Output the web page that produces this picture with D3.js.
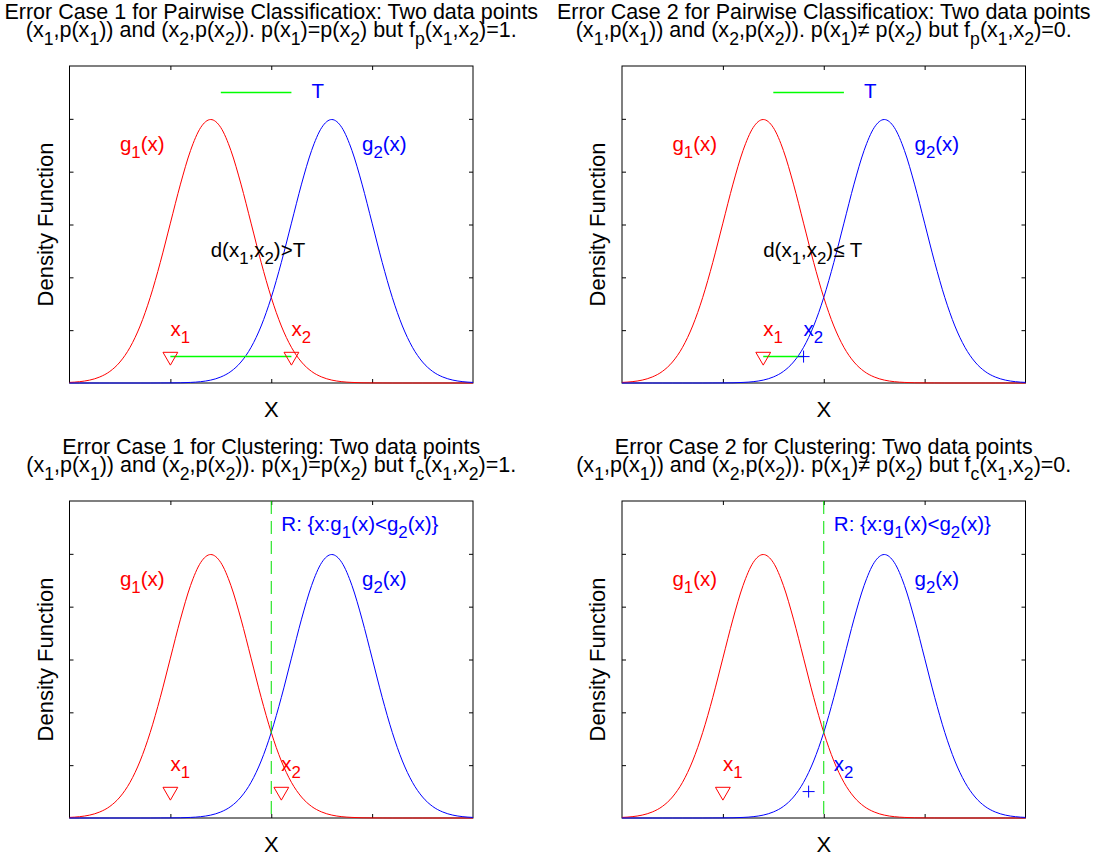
<!DOCTYPE html>
<html>
<head>
<meta charset="utf-8">
<script src="https://cdn.jsdelivr.net/npm/d3@7"></script>
<style>
  body { margin: 0; background: #fff; }
  text { font-family: "Liberation Sans", Arial, sans-serif; }
</style>
</head>
<body>
<div id="chart"></div>
<script>
// x grid shared by both densities
var xGrid = [-4.0,-3.8,-3.6,-3.4,-3.2,-3.0,-2.8,-2.6,-2.4,-2.2,-2.0,-1.8,-1.6,-1.4,-1.2,-1.0,-0.8,-0.6,-0.4,-0.2,
	0.0,0.2,0.4,0.6,0.8,1.0,1.2,1.4,1.6,1.8,2.0,2.2,2.4,2.6,2.8,3.0,3.2,3.4,3.6,3.8,4.0];
var g1 = [0.0011,0.0025,0.0055,0.0114,0.0219,0.0397,0.0675,0.1079,0.1619,0.2283,0.3025,0.3764,0.4401,0.4834,0.4987,
	0.4834,0.4401,0.3764,0.3025,0.2283,0.1619,0.1079,0.0675,0.0397,0.0219,0.0114,0.0055,0.0025,0.0011,0.0004,
	0.0002,0.0001,0,0,0,0,0,0,0,0,0];
var g2 = [0,0,0,0,0,0,0,0,0,0.0001,0.0002,0.0004,0.0011,0.0025,0.0055,0.0114,0.0219,0.0397,0.0675,0.1079,
	0.1619,0.2283,0.3025,0.3764,0.4401,0.4834,0.4987,0.4834,0.4401,0.3764,0.3025,0.2283,0.1619,0.1079,0.0675,
	0.0397,0.0219,0.0114,0.0055,0.0025,0.0011];

var xTicks = [-2, 0, 2];
var yTicks = [0.1, 0.2, 0.3, 0.4, 0.5];

var titles = [
	["Error Case 1 for Pairwise Classificatiox: Two data points", "(x_1,p(x_1)) and (x_2,p(x_2)). p(x_1)=p(x_2) but f_p(x_1,x_2)=1."],
	["Error Case 2 for Pairwise Classificatiox: Two data points", "(x_1,p(x_1)) and (x_2,p(x_2)). p(x_1)\u2260 p(x_2) but f_p(x_1,x_2)=0."],
	["Error Case 1 for Clustering: Two data points", "(x_1,p(x_1)) and (x_2,p(x_2)). p(x_1)=p(x_2) but f_c(x_1,x_2)=1."],
	["Error Case 2 for Clustering: Two data points", "(x_1,p(x_1)) and (x_2,p(x_2)). p(x_1)\u2260 p(x_2) but f_c(x_1,x_2)=0."]
];

// data points x1, x2 per panel
var x1Points = [[-2, 0.05], [-1.2, 0.05], [-2, 0.05], [-2, 0.05]];
var x2Points = [[0.4, 0.05], [-0.4, 0.05], [0.2, 0.05], [-0.3, 0.05]];
var x2Marker = ["tri", "plus", "tri", "plus"];
var x2Color = ["red", "blue", "red", "blue"];
var x1Labels = [[-2, 0.1], [-1.2, 0.1], [-2, 0.1], [-2, 0.1]];
var x2Labels = [[0.4, 0.1], [-0.4, 0.1], [0.2, 0.1], [0.2, 0.1]];

// pairwise panels: threshold T and distance
var tLine = [[-1.0, 0.55], [0.4, 0.55]];
var tLabel = [0.8, 0.55];
var distText = ["d(x_1,x_2)>T", "d(x_1,x_2)\u2264 T"];
var distPos = [-1.2, 0.25];

// clustering panels: region boundary
var boundaryX = 0;
var regionLabel = "R: {x:g_1(x)<g_2(x)}";
var regionPos = [0.2, 0.555];

var g1Label = [-3, 0.45], g2Label = [1.8, 0.45];

var W = 1101, H = 856;
var panels = [
	{left: 69.5, top: 66},
	{left: 622, top: 66},
	{left: 69.5, top: 501},
	{left: 622, top: 501}
];
var pw = 403.5, ph = 317;
var fs = 20.5, titleFs = 21.5, labelFs = 22;

var svg = d3.select("#chart").append("svg")
	.attr("width", W).attr("height", H)
	.style("background", "#fff");

function texText(g, str, x, y, size, color, anchor) {
	var t = g.append("text")
		.attr("x", x).attr("y", y)
		.attr("fill", color)
		.style("font-size", size + "px")
		.attr("text-anchor", anchor || "start");
	var parts = str.split(/_(.)/);
	var shift = Math.round(size * 0.35);
	var down = false;
	parts.forEach(function(p, i) {
		if (i % 2 == 1) {
			t.append("tspan").attr("dy", shift).style("font-size", (size * 0.82) + "px").text(p);
			down = true;
		} else if (p.length) {
			var ts = t.append("tspan").text(p);
			if (down) { ts.attr("dy", -shift); down = false; }
		}
	});
	return t;
}

panels.forEach(function(pn, k) {
	var x = d3.scaleLinear().domain([-4, 4]).range([pn.left, pn.left + pw]);
	var y = d3.scaleLinear().domain([0, 0.6]).range([pn.top + ph, pn.top]);
	var g = svg.append("g");

	// box + ticks
	g.append("rect")
		.attr("x", pn.left).attr("y", pn.top)
		.attr("width", pw).attr("height", ph)
		.attr("fill", "none").attr("stroke", "#000").attr("stroke-width", 1);
	g.append("g").attr("transform", "translate(0," + (pn.top + ph) + ")")
		.call(d3.axisBottom(x).tickValues(xTicks).tickSize(-4).tickFormat(""))
		.call(function(a) { a.select(".domain").remove(); });
	g.append("g").attr("transform", "translate(0," + pn.top + ")")
		.call(d3.axisTop(x).tickValues(xTicks).tickSize(-4).tickFormat(""))
		.call(function(a) { a.select(".domain").remove(); });
	g.append("g").attr("transform", "translate(" + pn.left + ",0)")
		.call(d3.axisLeft(y).tickValues(yTicks).tickSize(-4).tickFormat(""))
		.call(function(a) { a.select(".domain").remove(); });
	g.append("g").attr("transform", "translate(" + (pn.left + pw) + ",0)")
		.call(d3.axisRight(y).tickValues(yTicks).tickSize(-4).tickFormat(""))
		.call(function(a) { a.select(".domain").remove(); });

	// curves
	var line = d3.line().x(function(d, i) { return x(xGrid[i]); }).y(function(d) { return y(d); })
		.curve(d3.curveMonotoneX);
	g.append("path").datum(g1).attr("d", line).attr("fill", "none").attr("stroke", "#ff0000").attr("stroke-width", 1);
	g.append("path").datum(g2).attr("d", line).attr("fill", "none").attr("stroke", "#0000ff").attr("stroke-width", 1);

	var off = 6;
	texText(g, "g_1(x)", x(g1Label[0]), y(g1Label[1]) + off, fs, "#ff0000");
	texText(g, "g_2(x)", x(g2Label[0]), y(g2Label[1]) + off, fs, "#0000ff");

	if (k < 2) {
		g.append("line")
			.attr("x1", x(tLine[0][0])).attr("x2", x(tLine[1][0]))
			.attr("y1", y(tLine[0][1])).attr("y2", y(tLine[1][1]))
			.attr("stroke", "#00ff00").attr("stroke-width", 1.5);
		texText(g, "T", x(tLabel[0]), y(tLabel[1]) + off, fs, "#0000ff");
		g.append("line")
			.attr("x1", x(x1Points[k][0])).attr("x2", x(x2Points[k][0]))
			.attr("y1", y(x1Points[k][1])).attr("y2", y(x2Points[k][1]))
			.attr("stroke", "#00ff00").attr("stroke-width", 1.5);
		texText(g, distText[k], x(distPos[0]), y(distPos[1]) + off, fs, "#000");
	} else {
		g.append("line")
			.attr("x1", x(boundaryX)).attr("x2", x(boundaryX))
			.attr("y1", y(0.6)).attr("y2", y(0))
			.attr("stroke", "#00e000").attr("stroke-width", 1)
			.attr("stroke-dasharray", "13,7");
		texText(g, regionLabel, x(regionPos[0]), y(regionPos[1]) + off, fs, "#0000ff");
	}

	// markers
	var tri = d3.symbol().type(d3.symbolTriangle).size(95);
	g.append("path").attr("d", tri)
		.attr("transform", "translate(" + x(x1Points[k][0]) + "," + y(x1Points[k][1]) + ") rotate(180)")
		.attr("fill", "none").attr("stroke", "#ff0000").attr("stroke-width", 1);
	if (x2Marker[k] == "tri") {
		g.append("path").attr("d", tri)
			.attr("transform", "translate(" + x(x2Points[k][0]) + "," + y(x2Points[k][1]) + ") rotate(180)")
			.attr("fill", "none").attr("stroke", "#ff0000").attr("stroke-width", 1);
	} else {
		g.append("path").attr("d", "M-6,0H6M0,-6V6")
			.attr("transform", "translate(" + x(x2Points[k][0]) + "," + y(x2Points[k][1]) + ")")
			.attr("fill", "none").attr("stroke", "#0000ff").attr("stroke-width", 1);
	}
	texText(g, "x_1", x(x1Labels[k][0]), y(x1Labels[k][1]) + off, fs, "#ff0000");
	texText(g, "x_2", x(x2Labels[k][0]), y(x2Labels[k][1]) + off, fs, x2Color[k] == "red" ? "#ff0000" : "#0000ff");

	// titles and axis labels
	var cx = pn.left + pw / 2;
	texText(g, titles[k][0], cx, pn.top - 47.5, titleFs, "#000", "middle");
	texText(g, titles[k][1], cx, pn.top - 29, titleFs, "#000", "middle");
	g.append("text").attr("x", cx).attr("y", pn.top + ph + 34)
		.attr("text-anchor", "middle").style("font-size", labelFs + "px").text("X");
	g.append("text")
		.attr("transform", "translate(" + (pn.left - 17) + "," + (pn.top + ph / 2) + ") rotate(-90)")
		.attr("text-anchor", "middle").style("font-size", labelFs + "px").text("Density Function");
});
</script>
</body>
</html>
